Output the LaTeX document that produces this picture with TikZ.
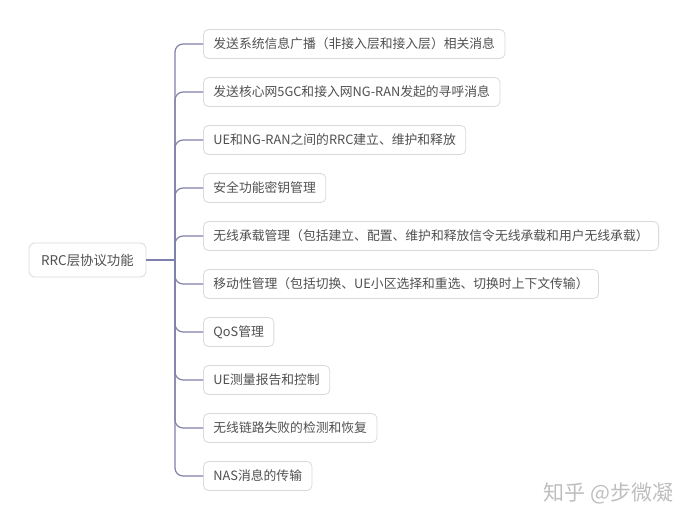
\documentclass[tikz,border=0pt]{standalone}
\usepackage{fontspec}
\setmainfont{Noto Sans CJK SC}
\usepackage{xcolor}
\usepackage{tikz}
\usetikzlibrary{positioning, calc}
\definecolor{branchpurple}{RGB}{128, 128, 172}
\definecolor{boxgray}{RGB}{218, 218, 222}
\definecolor{textgray}{RGB}{80, 80, 80}
\definecolor{markgray}{RGB}{190, 190, 190}

\begin{document}
\begin{tikzpicture}[
    x=1pt, y=-1pt,
    node distance=18.2pt,
    leaf/.style={rectangle, rounded corners=5pt, draw=boxgray, line width=0.8pt, fill=white, minimum height=29pt, inner xsep=10pt, font=\fontsize{12.8}{15}\selectfont, text=textgray, anchor=west},
    rootbox/.style={rectangle, rounded corners=6pt, draw=boxgray, line width=0.8pt, fill=white, minimum height=34pt, minimum width=117pt, font=\fontsize{13.4}{16}\selectfont, text=textgray},
    branch/.style={draw=branchpurple, line width=1.2pt, rounded corners=8pt}
]
\useasboundingbox (0,0) rectangle (692,522);

% Root
\node[rootbox] (root) at (87.5,260) {RRC层协议功能};
\coordinate (hub) at (175,260);

% Functions
\node[leaf] (bcast) at (203,44) {发送系统信息广播（非接入层和接入层）相关消息};
\node[leaf, below=of bcast.south west, anchor=north west] (paging) {发送核心网5GC和接入网NG-RAN发起的寻呼消息};
\node[leaf, below=of paging.south west, anchor=north west] (rrcconn) {UE和NG-RAN之间的RRC建立、维护和释放};
\node[leaf, below=of rrcconn.south west, anchor=north west] (security) {安全功能密钥管理};
\node[leaf, below=of security.south west, anchor=north west] (bearer) {无线承载管理（包括建立、配置、维护和释放信令无线承载和用户无线承载）};
\node[leaf, below=of bearer.south west, anchor=north west] (mobility) {移动性管理（包括切换、UE小区选择和重选、切换时上下文传输）};
\node[leaf, below=of mobility.south west, anchor=north west] (qos) {QoS管理};
\node[leaf, below=of qos.south west, anchor=north west] (measure) {UE测量报告和控制};
\node[leaf, below=of measure.south west, anchor=north west] (rlf) {无线链路失败的检测和恢复};
\node[leaf, below=of rlf.south west, anchor=north west] (nas) {NAS消息的传输};

% Watermark
\node[font=\fontsize{21}{24}\selectfont, text=markgray, anchor=east] (mark) at (677,493) {知乎 @步微凝};

% Branches
\draw[branch] (root.east) -- (hub);
\draw[branch] (hub) |- (bcast.west);
\draw[branch] (hub) |- (paging.west);
\draw[branch] (hub) |- (rrcconn.west);
\draw[branch] (hub) |- (security.west);
\draw[branch] (hub) |- (bearer.west);
\draw[branch] (hub) |- (mobility.west);
\draw[branch] (hub) |- (qos.west);
\draw[branch] (hub) |- (measure.west);
\draw[branch] (hub) |- (rlf.west);
\draw[branch] (hub) |- (nas.west);

\end{tikzpicture}
\end{document}
